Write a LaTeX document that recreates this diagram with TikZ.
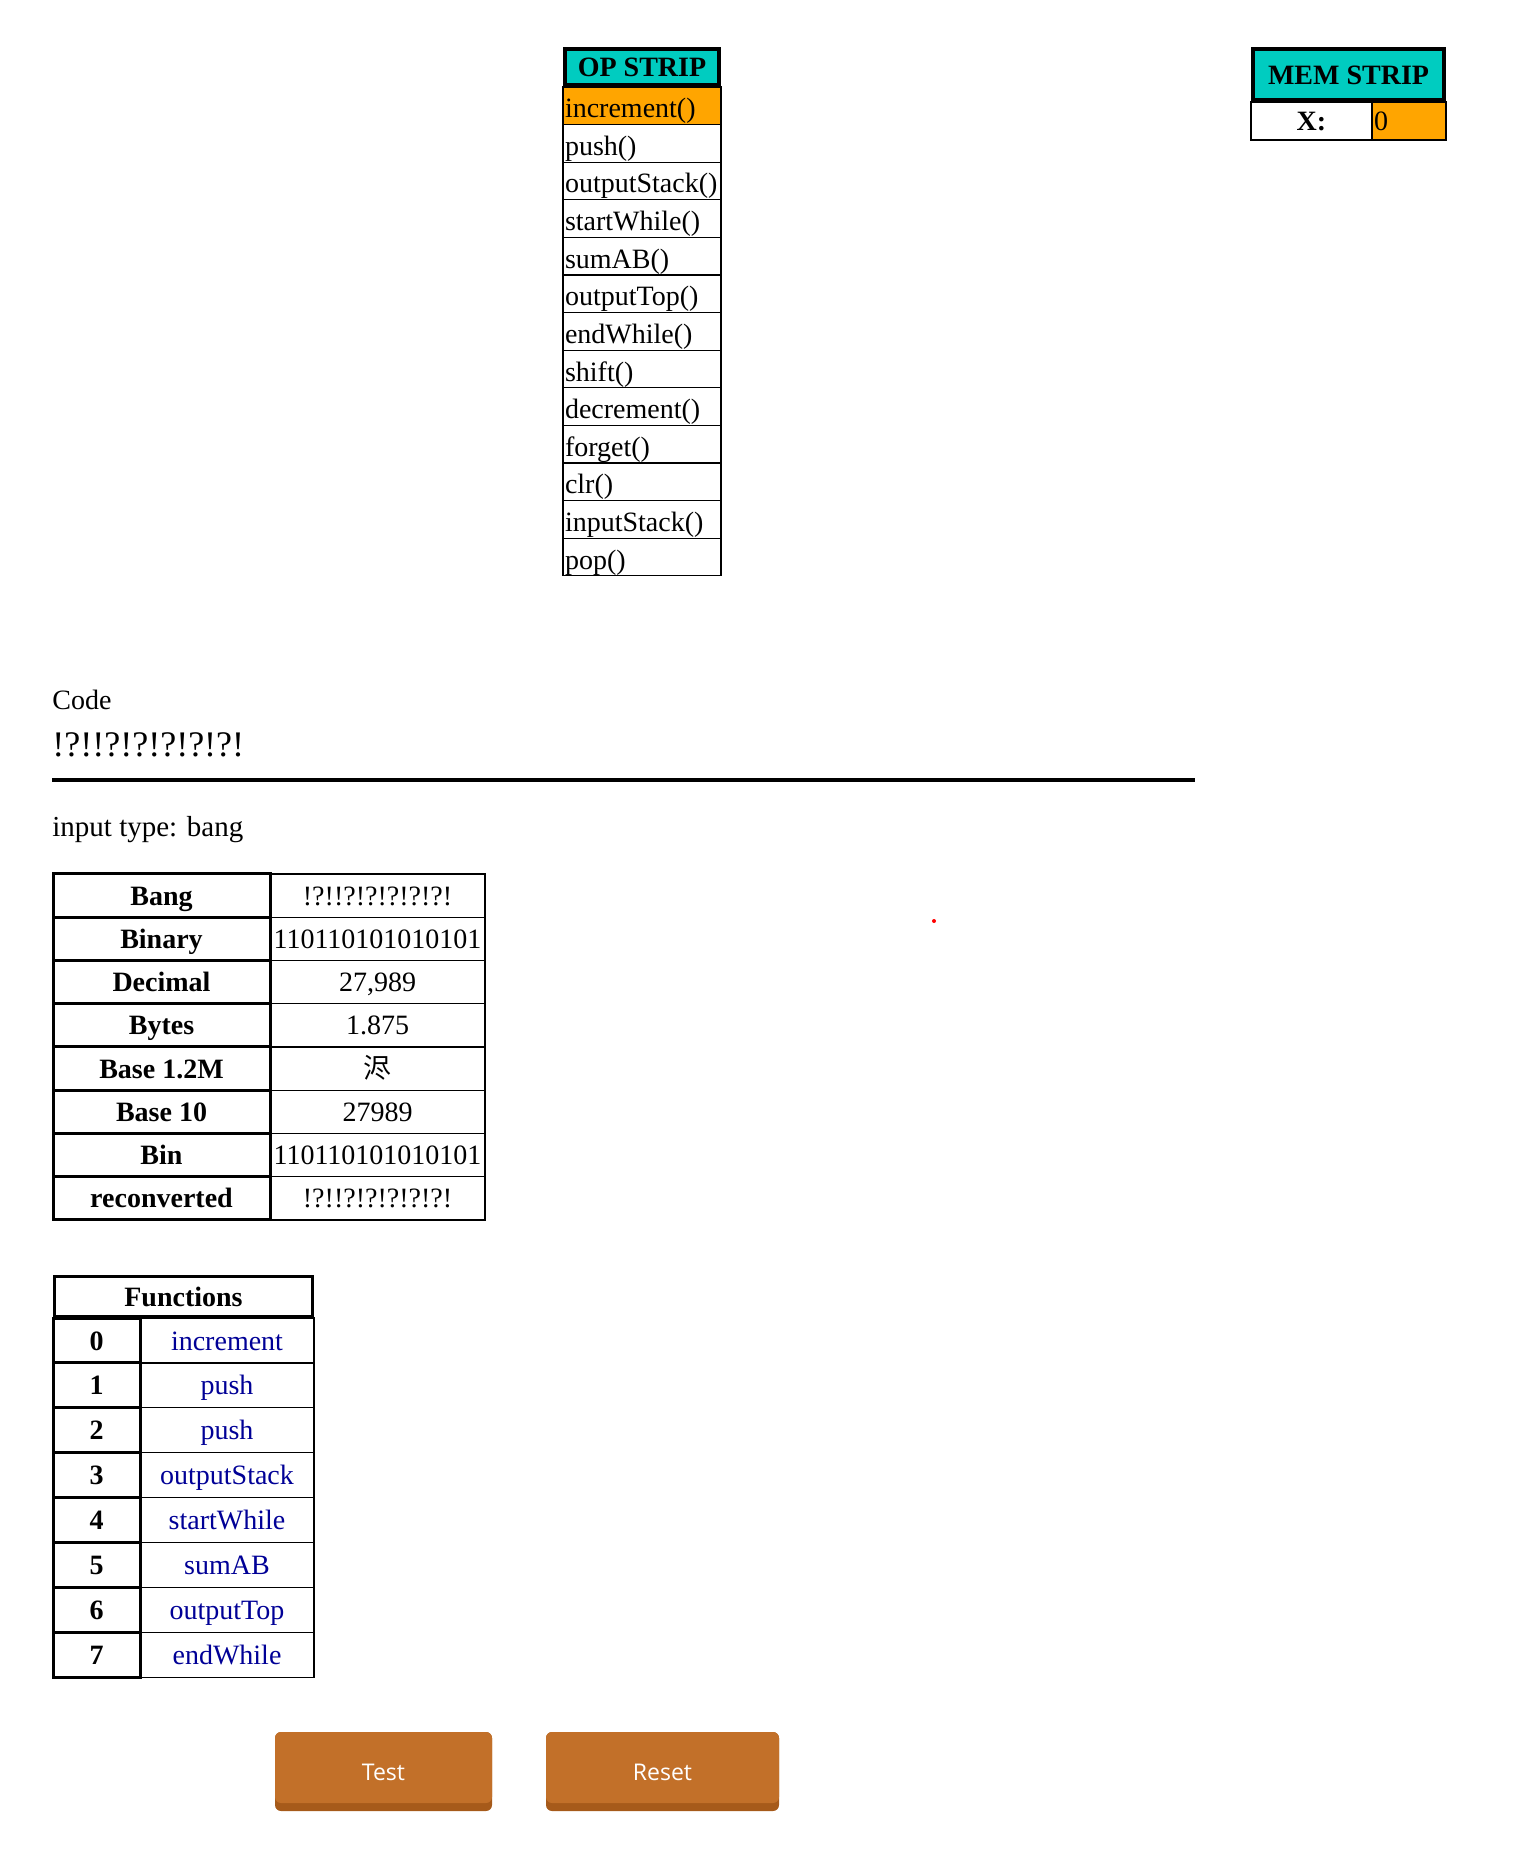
\documentclass[tikz,border=0pt]{standalone}
\usepackage{fontspec}
\setmainfont{Liberation Serif}
\newfontfamily\cjk{Noto Sans CJK SC}
\newfontfamily\btnfont{Open Sans}
\usetikzlibrary{positioning}

\definecolor{stripteal}{RGB}{0,204,192}
\definecolor{cellorange}{RGB}{255,165,0}
\definecolor{fnblue}{RGB}{0,0,150}
\definecolor{btnfill}{RGB}{194,112,41}
\definecolor{btnshade}{RGB}{166,90,26}

\begin{document}
\begin{tikzpicture}[x=0.5pt,y=-0.5pt,inner sep=1pt,
                    font=\fontsize{14pt}{16pt}\selectfont]
  \tikzstyle{opcell}=[draw,line width=0.6pt,text width=77pt,align=left,
                      minimum height=18.8pt,text height=12pt,text depth=0pt]
  \tikzstyle{striphead}=[draw,line width=2pt,fill=stripteal,text height=9.6pt,text depth=0pt,
                         font=\fontsize{14pt}{16pt}\selectfont\bfseries]
  \tikzstyle{namecell}=[draw,line width=1.5pt,text height=9.6pt,text depth=0pt,
                        font=\fontsize{14pt}{16pt}\selectfont\bfseries]
  \tikzstyle{valcell}=[draw,line width=0.6pt,text height=9.6pt,text depth=0pt]
  \tikzstyle{btnbase}=[rounded corners=3pt,minimum height=39.5pt,fill=btnshade]
  \tikzstyle{btnface}=[rounded corners=3pt,minimum height=35.5pt,fill=btnfill,
                       text=white,font=\btnfont\fontsize{11.5pt}{13pt}\selectfont]

  \useasboundingbox (0,0) rectangle (1517,1862);

  % op strip
  \begin{scope}[node distance=18.8pt]
  \node[opcell,fill=cellorange] (op1) at (642,105.8) {increment()};
  \node[opcell] (op2)  [below of=op1]  {push()};
  \node[opcell] (op3)  [below of=op2]  {outputStack()};
  \node[opcell] (op4)  [below of=op3]  {startWhile()};
  \node[opcell] (op5)  [below of=op4]  {sumAB()};
  \node[opcell] (op6)  [below of=op5]  {outputTop()};
  \node[opcell] (op7)  [below of=op6]  {endWhile()};
  \node[opcell] (op8)  [below of=op7]  {shift()};
  \node[opcell] (op9)  [below of=op8]  {decrement()};
  \node[opcell] (op10) [below of=op9]  {forget()};
  \node[opcell] (op11) [below of=op10] {clr()};
  \node[opcell] (op12) [below of=op11] {inputStack()};
  \node[opcell] (op13) [below of=op12] {pop()};
  \node[striphead,minimum width=77pt,minimum height=18pt] (ophead) at (642,67) {OP STRIP};
  \end{scope}

  % mem strip
  \node[valcell,minimum width=60.5pt,minimum height=19pt,font=\fontsize{14pt}{16pt}\selectfont\bfseries]
       (memkey) at (1311.5,121) {X:};
  \node[valcell,fill=cellorange,text width=35pt,align=left,minimum height=19pt,
        node distance=48.75pt] (memval) [right of=memkey] {0};
  \node[striphead,minimum width=95.5pt,minimum height=25.5pt] (memhead) at (1348.5,74.5) {MEM STRIP};

  % code
  \node[anchor=west,inner sep=0pt] (codelabel) at (52,700) {Code};
  \node[anchor=west,inner sep=0pt,font=\fontsize{18pt}{20pt}\selectfont]
       (codetext) at (52,744.5) {!?!!?!?!?!?!?!};
  \draw[line width=1.75pt] (52,780) -- (1195,780);
  \node[anchor=west,inner sep=0pt,font=\fontsize{14.5pt}{16pt}\selectfont]
       (inputtype) at (52,830) {input type: bang};

  % conversions
  \begin{scope}[node distance=21.625pt]
  \tikzstyle{every node}=[minimum height=21.625pt]
  \node[namecell,minimum width=108.5pt] (bang1) at (161.5,895.6) {Bang};
  \node[namecell,minimum width=108.5pt] (bang2) [below of=bang1] {Binary};
  \node[namecell,minimum width=108.5pt] (bang3) [below of=bang2] {Decimal};
  \node[namecell,minimum width=108.5pt] (bang4) [below of=bang3] {Bytes};
  \node[namecell,minimum width=108.5pt] (bang5) [below of=bang4] {Base 1.2M};
  \node[namecell,minimum width=108.5pt] (bang6) [below of=bang5] {Base 10};
  \node[namecell,minimum width=108.5pt] (bang7) [below of=bang6] {Bin};
  \node[namecell,minimum width=108.5pt] (bang8) [below of=bang7] {reconverted};
  \node[valcell,minimum width=107.5pt,node distance=108pt] (conv1) [right of=bang1] {!?!!?!?!?!?!?!};
  \node[valcell,minimum width=107.5pt,node distance=108pt] (conv2) [right of=bang2] {110110101010101};
  \node[valcell,minimum width=107.5pt,node distance=108pt] (conv3) [right of=bang3] {27,989};
  \node[valcell,minimum width=107.5pt,node distance=108pt] (conv4) [right of=bang4] {1.875};
  \node[valcell,minimum width=107.5pt,node distance=108pt] (conv5) [right of=bang5] {\cjk 浕};
  \node[valcell,minimum width=107.5pt,node distance=108pt] (conv6) [right of=bang6] {27989};
  \node[valcell,minimum width=107.5pt,node distance=108pt] (conv7) [right of=bang7] {110110101010101};
  \node[valcell,minimum width=107.5pt,node distance=108pt] (conv8) [right of=bang8] {!?!!?!?!?!?!?!};
  \end{scope}

  \fill[red] (934,921) circle (1pt);

  % functions
  \node[namecell,minimum width=129pt,minimum height=20pt] (fnhead) at (183.5,1296.5) {Functions};
  \begin{scope}[node distance=22.45pt]
  \tikzstyle{every node}=[minimum height=22.45pt]
  \node[namecell,minimum width=43.5pt] (fn0) at (96.5,1340.45) {0};
  \node[namecell,minimum width=43.5pt] (fn1) [below of=fn0] {1};
  \node[namecell,minimum width=43.5pt] (fn2) [below of=fn1] {2};
  \node[namecell,minimum width=43.5pt] (fn3) [below of=fn2] {3};
  \node[namecell,minimum width=43.5pt] (fn4) [below of=fn3] {4};
  \node[namecell,minimum width=43.5pt] (fn5) [below of=fn4] {5};
  \node[namecell,minimum width=43.5pt] (fn6) [below of=fn5] {6};
  \node[namecell,minimum width=43.5pt] (fn7) [below of=fn6] {7};
  \node[valcell,text=fnblue,minimum width=87pt,node distance=65.25pt] (fname0) [right of=fn0] {increment};
  \node[valcell,text=fnblue,minimum width=87pt,node distance=65.25pt] (fname1) [right of=fn1] {push};
  \node[valcell,text=fnblue,minimum width=87pt,node distance=65.25pt] (fname2) [right of=fn2] {push};
  \node[valcell,text=fnblue,minimum width=87pt,node distance=65.25pt] (fname3) [right of=fn3] {outputStack};
  \node[valcell,text=fnblue,minimum width=87pt,node distance=65.25pt] (fname4) [right of=fn4] {startWhile};
  \node[valcell,text=fnblue,minimum width=87pt,node distance=65.25pt] (fname5) [right of=fn5] {sumAB};
  \node[valcell,text=fnblue,minimum width=87pt,node distance=65.25pt] (fname6) [right of=fn6] {outputTop};
  \node[valcell,text=fnblue,minimum width=87pt,node distance=65.25pt] (fname7) [right of=fn7] {endWhile};
  \end{scope}

  % buttons
  \node[btnbase,minimum width=108.5pt] (testbase)  at (383.5,1771.5) {};
  \node[btnface,minimum width=108.5pt] (test)      at (383.5,1767.5) {\raisebox{-2.4pt}[8.2pt][0pt]{Test}};
  \node[btnbase,minimum width=116.5pt] (resetbase) at (662.5,1771.5) {};
  \node[btnface,minimum width=116.5pt] (reset)     at (662.5,1767.5) {\raisebox{-2.4pt}[8.2pt][0pt]{Reset}};

\end{tikzpicture}
\end{document}
